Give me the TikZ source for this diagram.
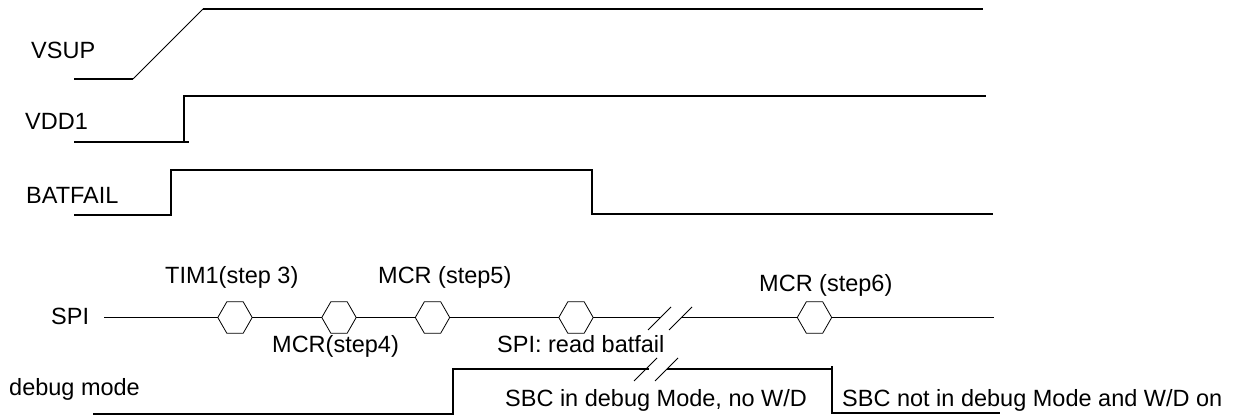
\documentclass[tikz,border=0pt]{standalone}
\usepackage{fontspec}
\setmainfont{Liberation Sans}
\begin{document}
\begin{tikzpicture}[x=1pt,y=-1pt,
  lbl/.style={anchor=base west,inner sep=0pt,font=\fontsize{23.5}{28}\selectfont},
  wave/.style={line width=1.8pt},
  thinw/.style={line width=0.8pt},
  spiw/.style={line width=1.5pt},
  hexbox/.style={inner sep=0pt,minimum width=34pt,minimum height=31pt,draw=none}]
\useasboundingbox (0,0) rectangle (1245,417);
\newcommand{\hexdraw}[1]{%
  \draw[thinw,line join=miter] (#1.west) -- ([xshift=9pt]#1.north west) -- ([xshift=-9pt]#1.north east)
    -- (#1.east) -- ([xshift=-9pt]#1.south east) -- ([xshift=9pt]#1.south west) -- cycle;}
% labels
\node[lbl] (lvsup) at (31,59) {VSUP};
\node[lbl] (lvdd) at (25,130) {VDD1};
\node[lbl] (lbat) at (26,204) {BATFAIL};
\node[lbl] (lspi) at (51,324) {SPI};
\node[lbl] (ldbg) at (9,395) {debug mode};
\node[lbl] (ltim) at (165,283) {TIM1(step 3)};
\node[lbl] (lmcr5) at (378,283) {MCR (step5)};
\node[lbl] (lmcr4) at (272,352) {MCR(step4)};
\node[lbl] (lread) at (497,352) {SPI: read batfail};
\node[lbl] (lmcr6) at (759,291) {MCR (step6)};
\node[lbl] (lsbc1) at (505,406) {SBC in debug Mode, no W/D};
\node[lbl] (lsbc2) at (842,406) {SBC not in debug Mode and W/D on};
% VSUP
\coordinate (v0) at (74,79);
\coordinate (v1) at (133,79);
\coordinate (v2) at (203,9);
\coordinate (v3) at (983,9);
\draw[wave] (v0) -- (v1);
\draw[thinw] (v1) -- (v2);
\draw[wave] (v2) -- (v3);
% VDD1
\coordinate (d0) at (74,142);
\coordinate (d1) at (189,142);
\coordinate (d2) at (184,142);
\coordinate (d3) at (184,96);
\coordinate (d4) at (986,96);
\draw[wave] (d0) -- (d1);
\draw[wave] (d2) -- (d3) -- (d4);
% BATFAIL
\coordinate (b0) at (74,215);
\coordinate (b1) at (171,215);
\coordinate (b2) at (171,170);
\coordinate (b3) at (592,170);
\coordinate (b4) at (592,214);
\coordinate (b5) at (993,214);
\draw[wave,line join=miter] (b0) -- (b1) -- (b2) -- (b3) -- (b4) -- (b5);
% SPI
\node[hexbox] (h1) at (235,317.5) {};
\node[hexbox] (h2) at (339,317.5) {};
\node[hexbox] (h3) at (432.5,317.5) {};
\node[hexbox] (h4) at (576,317.5) {};
\node[hexbox] (h5) at (814.5,317.5) {};
\hexdraw{h1}\hexdraw{h2}\hexdraw{h3}\hexdraw{h4}\hexdraw{h5}
\coordinate (s0) at (104,317.5);
\coordinate (sb1) at (661,317.5);
\coordinate (sb2) at (681,317.5);
\coordinate (s9) at (994,317.5);
\draw[spiw] (s0) -- (h1.west);
\draw[spiw] (h1.east) -- (h2.west);
\draw[spiw] (h2.east) -- (h3.west);
\draw[spiw] (h3.east) -- (h4.west);
\draw[spiw] (h4.east) -- (sb1);
\draw[spiw] (sb2) -- (h5.west);
\draw[spiw] (h5.east) -- (s9);
\coordinate (sl1a) at (648,330); \coordinate (sl1b) at (671,307);
\coordinate (sl2a) at (669,330); \coordinate (sl2b) at (692,307);
\draw[thinw] (sl1a) -- (sl1b);
\draw[thinw] (sl2a) -- (sl2b);
% debug mode
\coordinate (m0) at (93,414);
\coordinate (m1) at (453,414);
\coordinate (m2) at (453,369);
\coordinate (mb1) at (649,369);
\coordinate (mb2) at (667,369);
\coordinate (m3) at (832,369);
\coordinate (m3t) at (832,366);
\coordinate (m4) at (832,413);
\coordinate (m5) at (1000,413);
\draw[wave,line join=miter] (m0) -- (m1) -- (m2) -- (mb1);
\draw[wave] (mb2) -- (m3);
\draw[wave,line join=miter] (m3t) -- (m4) -- (m5);
\coordinate (ml1a) at (634,381); \coordinate (ml1b) at (657,358);
\coordinate (ml2a) at (655,381); \coordinate (ml2b) at (678,358);
\draw[thinw] (ml1a) -- (ml1b);
\draw[thinw] (ml2a) -- (ml2b);
\end{tikzpicture}
\end{document}
